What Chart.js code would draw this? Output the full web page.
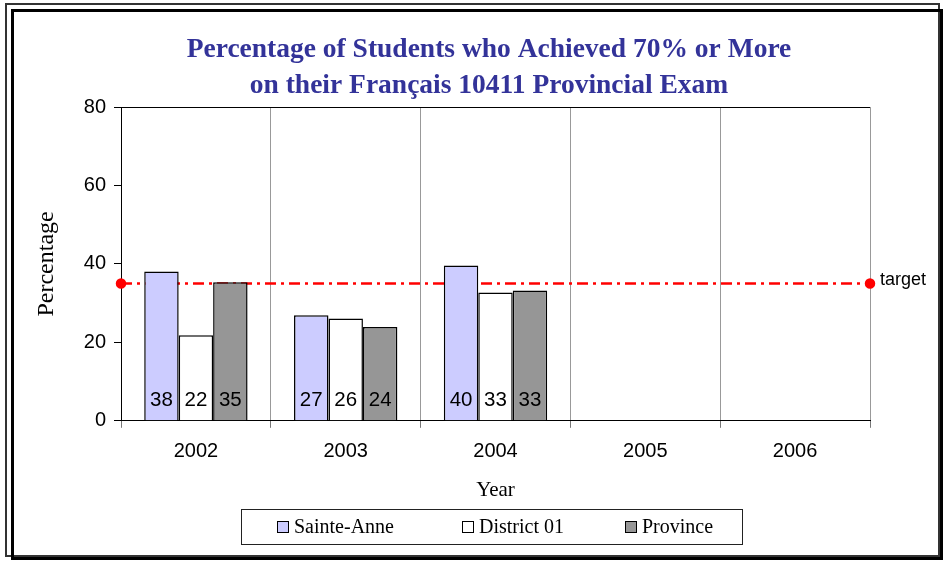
<!DOCTYPE html>
<html>
<head>
<meta charset="utf-8">
<script src="https://cdn.jsdelivr.net/npm/chart.js@4.4.1/dist/chart.umd.min.js"></script>
<style>
  html, body { margin: 0; padding: 0; background: #fff; }
  #wrap { position: relative; width: 946px; height: 561px; }
  #legend {
    position: absolute; left: 241px; top: 509px; width: 500px; height: 34px;
    border: 1px solid #222; font-family: "Liberation Serif", serif; font-size: 20px; color: #000;
  }
  #legend .item { display: flex; align-items: center; position: absolute; top: 5px; }
  #legend .sw { width: 10px; height: 10px; border: 1px solid #000; margin-right: 5px; }
</style>
</head>
<body>
<div id="wrap">
  <canvas id="chart" width="946" height="561"></canvas>
  <div id="legend"></div>
</div>
<script>
// Datos
const years = ["2002", "2003", "2004", "2005", "2006"];
const seriesNames = ["Sainte-Anne", "District 01", "Province"];
const sainteAnne = [38.1, 26.9, 39.6, null, null];
const district01 = [21.8, 26.1, 32.7, null, null];
const province = [35.3, 23.9, 33.2, null, null];
const targetValue = 35;
const yTicks = [0, 20, 40, 60, 80];

const seriesColors = ["#CCCCFF", "#FFFFFF", "#969696"];
const seriesValues = [sainteAnne, district01, province];

// Marco doble alrededor del gráfico
const framePlugin = {
  id: "frame",
  beforeDraw(chart) {
    const c = chart.ctx;
    c.save();
    c.fillStyle = "#fff";
    c.fillRect(0, 0, chart.width, chart.height);
    c.strokeStyle = "#333";
    c.lineWidth = 2;
    c.strokeRect(6, 4, 933, 552);
    c.strokeStyle = "#000";
    c.lineWidth = 3;
    c.strokeRect(12.5, 10.5, 929, 548);
    c.restore();
  }
};

// Etiquetas de valores dentro de las barras y texto "target"
const barLabels = {
  id: "barLabels",
  afterDatasetsDraw(chart) {
    const c = chart.ctx;
    const y0 = chart.scales.y.getPixelForValue(0);
    c.save();
    c.font = "20.5px 'Liberation Sans'";
    c.fillStyle = "#000";
    c.textAlign = "center";
    c.textBaseline = "middle";
    chart.data.datasets.forEach((ds, i) => {
      if (ds.type === "line") return;
      chart.getDatasetMeta(i).data.forEach((el, j) => {
        const v = ds.data[j];
        if (v == null) return;
        c.fillText(String(Math.round(v)), el.x, y0 - 20);
      });
    });
    const xr = chart.scales.x.getPixelForValue(years.length - 0.5);
    const yt = chart.scales.y.getPixelForValue(targetValue);
    c.font = "18px 'Liberation Sans'";
    c.textAlign = "left";
    c.fillText("target", xr + 10, yt - 4);
    c.restore();
  }
};

const init = () => {
  const ctx = document.getElementById("chart");

  const datasets = seriesNames.map((name, i) => ({
    type: "bar",
    label: name,
    data: seriesValues[i],
    backgroundColor: seriesColors[i],
    borderColor: "#000",
    borderWidth: 1.5,
    barPercentage: 1,
    categoryPercentage: 0.69
  }));

  // Línea objetivo de borde a borde del área (índices -0.5 a n-0.5)
  datasets.push({
    type: "line",
    label: "target",
    parsing: false,
    data: [{ x: -0.5, y: targetValue }, { x: years.length - 0.5, y: targetValue }],
    borderColor: "#FF0000",
    borderWidth: 2.5,
    borderDash: [11, 5, 3, 5],
    pointRadius: 4,
    pointBackgroundColor: "#FF0000",
    pointBorderColor: "#FF0000",
    clip: false
  });

  new Chart(ctx, {
    type: "bar",
    data: { labels: years, datasets },
    plugins: [framePlugin, barLabels],
    options: {
      responsive: false,
      animation: false,
      layout: { padding: { left: 32, right: 0, top: 10, bottom: 58 } },
      plugins: {
        legend: { display: false },
        tooltip: { enabled: false },
        title: {
          display: true,
          text: ["Percentage of Students who Achieved 70% or More", "on their Français 10411 Provincial Exam"],
          color: "#333399",
          font: { family: "Liberation Serif", size: 27.5, weight: "bold", lineHeight: 1.31 },
          padding: { top: 22, bottom: 3 }
        }
      },
      scales: {
        x: {
          type: "category",
          min: 0, max: years.length - 1,
          grid: { color: "#999", tickColor: "#777", tickLength: 7, offset: true },
          border: { color: "#000", width: 1 },
          ticks: { color: "#000", font: { family: "Liberation Sans", size: 20 }, padding: 12 },
          title: {
            display: true, text: "Year", color: "#000",
            font: { family: "Liberation Serif", size: 21 },
            padding: { top: 2, bottom: 0 }
          }
        },
        y: {
          min: 0, max: 80,
          afterBuildTicks: s => { s.ticks = yTicks.map(v => ({ value: v })); },
          grid: {
            color: c => (c.tick && c.tick.value === 80 ? "#000" : "rgba(0,0,0,0)"),
            tickColor: "#000",
            tickLength: 7
          },
          border: { color: "#000", width: 1 },
          ticks: { color: "#000", font: { family: "Liberation Sans", size: 20 }, padding: 8 },
          title: {
            display: true, text: "Percentage", color: "#000",
            font: { family: "Liberation Serif", size: 24 },
            padding: 0
          },
          afterFit: s => { s.width = 89; }
        },
        yr: {
          type: "linear", position: "right", display: true,
          grid: { display: false, drawTicks: false },
          ticks: { display: false },
          border: { display: false },
          afterFit: s => { s.width = 76; }
        }
      }
    }
  });

  // Leyenda en HTML con el recuadro
  const legend = document.getElementById("legend");
  const offsets = [35, 220, 383];
  seriesNames.forEach((name, i) => {
    const item = document.createElement("div");
    item.className = "item";
    item.style.left = offsets[i] + "px";
    const sw = document.createElement("span");
    sw.className = "sw";
    sw.style.background = seriesColors[i];
    const txt = document.createElement("span");
    txt.textContent = name;
    item.appendChild(sw);
    item.appendChild(txt);
    legend.appendChild(item);
  });
};

init();
</script>
</body>
</html>
